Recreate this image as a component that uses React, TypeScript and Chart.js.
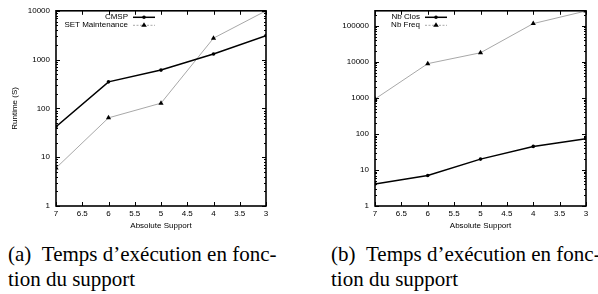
import React, { useEffect, useRef } from "react";
import { Chart, registerables } from "chart.js";

Chart.register(...registerables);

const supports = [7, 6, 5, 4, 3];
const xTickValues = [7, 6.5, 6, 5.5, 5, 4.5, 4, 3.5, 3];

const cmspRuntime = [42, 350, 610, 1300, 3100];
const setMaintenanceRuntime = [6, 64, 128, 2750, 10000];

const nbClos = [4.1, 7, 20, 45, 74];
const nbFreq = [930, 8900, 17800, 115000, 257000];

const leftYTicks = [1, 10, 100, 1000, 10000];
const rightYTicks = [1, 10, 100, 1000, 10000, 100000];

const FONT = "'Liberation Sans', Arial, sans-serif";

type Cfg = {
  labels: string[];
  values: number[][];
  yMax: number;
  yTicks: number[];
  yTitle: string;
  yWidth: number;
  padRight: number;
  legendTextRight: number;
  width: number;
  height: number;
};

const framePlugin = {
  id: "gnuframe",
  afterDatasetsDraw(chart: any, _a: any, opts: any) {
    const { ctx, chartArea } = chart;
    const { left, right, top, bottom } = chartArea;
    const x = chart.scales.x;
    const y = chart.scales.y;
    ctx.save();
    ctx.strokeStyle = "#000";
    ctx.lineWidth = 1;
    for (const v of xTickValues) {
      const px = Math.round(x.getPixelForValue(v)) + 0.5;
      ctx.beginPath();
      ctx.moveTo(px, bottom);
      ctx.lineTo(px, bottom - 4);
      ctx.moveTo(px, top);
      ctx.lineTo(px, top + 4);
      ctx.stroke();
    }
    const maxV = y.max;
    for (let d = 1; d <= maxV; d *= 10) {
      for (let k = 1; k <= 9; k++) {
        const v = d * k;
        if (v > maxV) break;
        const py = Math.round(y.getPixelForValue(v)) + 0.5;
        const len = k === 1 ? 4 : 2;
        ctx.beginPath();
        ctx.moveTo(left, py);
        ctx.lineTo(left + len, py);
        ctx.moveTo(right, py);
        ctx.lineTo(right - len, py);
        ctx.stroke();
      }
    }
    ctx.lineWidth = 1.6;
    ctx.strokeRect(left, top, right - left, bottom - top);

    const ds = chart.data.datasets;
    ctx.font = `8px ${FONT}`;
    ctx.textAlign = "right";
    ctx.textBaseline = "middle";
    ctx.fillStyle = "#000";
    ds.forEach((d: any, i: number) => {
      const ly = top + 6 + i * 8;
      const tx = opts.textRight;
      ctx.fillText(d.label, tx, ly);
      const x0 = tx + 5;
      const x1 = tx + 27;
      ctx.save();
      ctx.strokeStyle = d.borderColor;
      ctx.lineWidth = d.borderWidth;
      ctx.setLineDash(i === 1 ? [2, 1.5] : []);
      ctx.beginPath();
      ctx.moveTo(x0, ly + 0.5);
      ctx.lineTo(x1, ly + 0.5);
      ctx.stroke();
      ctx.restore();
      const mx = (x0 + x1) / 2;
      ctx.fillStyle = "#000";
      ctx.beginPath();
      if (i === 0) {
        ctx.arc(mx, ly + 0.5, 1.8, 0, Math.PI * 2);
      } else {
        ctx.moveTo(mx, ly - 2.5);
        ctx.lineTo(mx + 2.8, ly + 2);
        ctx.lineTo(mx - 2.8, ly + 2);
        ctx.closePath();
      }
      ctx.fill();
    });
    ctx.restore();
  },
};

function GnuChart({ cfg }: { cfg: Cfg }) {
  const ref = useRef<HTMLCanvasElement | null>(null);
  useEffect(() => {
    if (!ref.current) return;
    const chart = new Chart(ref.current, {
      type: "line",
      data: {
        datasets: [
          {
            label: cfg.labels[0],
            data: supports.map((s, i) => ({ x: s, y: cfg.values[0][i] })),
            borderColor: "#000",
            backgroundColor: "#000",
            borderWidth: 1.5,
            pointStyle: "circle",
            pointRadius: 1.8,
            pointBorderWidth: 0,
          },
          {
            label: cfg.labels[1],
            data: supports.map((s, i) => ({ x: s, y: cfg.values[1][i] })),
            borderColor: "#a8a8a8",
            backgroundColor: "#000",
            borderWidth: 1,
            pointStyle: "triangle",
            pointRadius: 3,
            pointBorderWidth: 0,
          },
        ],
      },
      options: {
        animation: false,
        responsive: false,
        maintainAspectRatio: false,
        layout: { padding: { left: 0, right: cfg.padRight, top: 8, bottom: 0 } },
        plugins: {
          legend: { display: false },
          tooltip: { enabled: false },
          gnuframe: { textRight: cfg.legendTextRight },
        } as any,
        scales: {
          x: {
            type: "linear",
            reverse: true,
            min: 3,
            max: 7,
            afterBuildTicks: (s: any) => {
              s.ticks = xTickValues.map((v) => ({ value: v }));
            },
            afterFit: (s: any) => {
              s.height = 29;
            },
            grid: { display: false, drawTicks: false, tickLength: 0 },
            border: { display: false },
            ticks: {
              padding: 3,
              color: "#000",
              font: { family: FONT, size: 8 },
              maxRotation: 0,
              autoSkip: false,
              callback: (v: any) => String(v),
            },
            title: {
              display: true,
              text: "Absolute Support",
              color: "#000",
              font: { family: FONT, size: 8 },
              padding: { top: 0, bottom: 4 },
            },
          },
          y: {
            type: "logarithmic",
            min: 1,
            max: cfg.yMax,
            afterBuildTicks: (s: any) => {
              s.ticks = cfg.yTicks.map((v) => ({ value: v }));
            },
            afterFit: (s: any) => {
              s.width = cfg.yWidth;
            },
            grid: { display: false, drawTicks: false, tickLength: 0 },
            border: { display: false },
            ticks: {
              padding: 6,
              color: "#000",
              font: { family: FONT, size: 8 },
              autoSkip: false,
              callback: (v: any) => String(v),
            },
            title: {
              display: cfg.yTitle !== "",
              text: cfg.yTitle,
              color: "#000",
              font: { family: FONT, size: 8 },
              padding: { top: 10, bottom: 0 },
            },
          },
        },
      },
      plugins: [framePlugin],
    });
    return () => chart.destroy();
  }, [cfg]);
  return <canvas ref={ref} width={cfg.width} height={cfg.height} style={{ width: cfg.width, height: cfg.height, display: "block" }} />;
}

const leftCfg: Cfg = {
  labels: ["CMSP", "SET Maintenance"],
  values: [cmspRuntime, setMaintenanceRuntime],
  yMax: 10000,
  yTicks: leftYTicks,
  yTitle: "Runtime (S)",
  yWidth: 56,
  padRight: 34,
  legendTextRight: 128,
  width: 300,
  height: 235,
};

const rightCfg: Cfg = {
  labels: ["Nb Clos", "Nb Freq"],
  values: [nbClos, nbFreq],
  yMax: 260000,
  yTicks: rightYTicks,
  yTitle: "",
  yWidth: 75,
  padRight: 12,
  legendTextRight: 120,
  width: 298,
  height: 235,
};

const captionStyle: React.CSSProperties = {
  position: "absolute",
  fontFamily: "'Liberation Serif', Tinos, 'Times New Roman', 'Nimbus Roman', 'DejaVu Serif', serif",
  fontSize: 21,
  lineHeight: "25px",
  color: "#000",
  whiteSpace: "nowrap",
};

export default function App() {
  return (
    <div style={{ position: "absolute", left: 0, top: 0, width: 598, height: 294, background: "#fff", overflow: "hidden" }}>
      <div style={{ position: "absolute", left: 0, top: 0 }}>
        <GnuChart cfg={leftCfg} />
      </div>
      <div style={{ position: "absolute", left: 300, top: 0 }}>
        <GnuChart cfg={rightCfg} />
      </div>
      <div style={{ ...captionStyle, left: 8, top: 242 }}>
        <div>(a)&nbsp;&nbsp;Temps d’exécution en fonc-</div>
        <div>tion du support</div>
      </div>
      <div style={{ ...captionStyle, left: 331, top: 242 }}>
        <div>(b)&nbsp;&nbsp;Temps d’exécution en fonc-</div>
        <div>tion du support</div>
      </div>
    </div>
  );
}
